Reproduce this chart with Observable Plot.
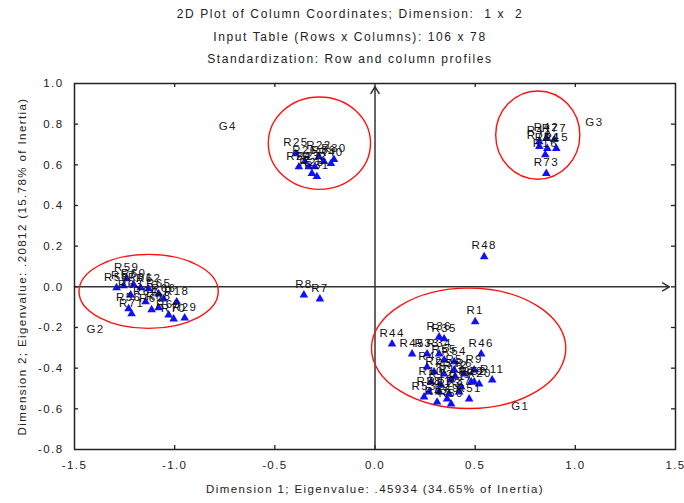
<!DOCTYPE html>
<html>
<head>
<meta charset="utf-8">
<script src="https://cdn.jsdelivr.net/npm/d3@7"></script>
<script src="https://cdn.jsdelivr.net/npm/@observablehq/plot@0.6"></script>
<style>
  body { margin: 0; background: #fff; }
  #wrap { width: 684px; height: 503px; position: relative; font-family: "Liberation Sans", Arial, sans-serif; }
  #title { height: 70px; box-sizing: border-box; padding-top: 3px; padding-left: 16px; text-align: center; font-size: 12px; line-height: 22.5px; letter-spacing: 1.6px; color: #222; }
  #title div { white-space: pre; }
  #chart svg text { letter-spacing: 1.4px; }
</style>
</head>
<body>
<div id="wrap">
  <div id="title">
    <div>2D Plot of Column Coordinates; Dimension:  1 x  2</div>
    <div>Input Table (Rows x Columns): 106 x 78</div>
    <div>Standardization: Row and column profiles</div>
  </div>
  <div id="chart"></div>
</div>
<script>
// Column coordinates (Dimension 1, Dimension 2)
const names = [
  // G4
  "R25","R24","R26","R27","R28","R31","R32","R39","R40","R30","R22",
  // G3
  "R41","R42","R77","R76","R14","R15","R16","R73",
  // G2
  "R59","R58","R57","R60","R61","R62","R63","R64","R65","R66","R56","R67","R68","R69","R70","R18","R29","R71",
  // outliers
  "R48","R8","R7",
  // G1
  "R1","R44","R45","R36","R35","R33","R34","R46","R4","R11",
  "R2","R3","R5","R6","R9","R10","R12","R13","R17","R19","R20","R21",
  "R23","R37","R38","R43","R49","R50","R51","R52","R53","R54","R55","R72"
];
const dim1 = [
  -0.395,-0.38,-0.35,-0.33,-0.315,-0.29,-0.30,-0.255,-0.22,-0.205,-0.28,
  0.82,0.855,0.895,0.82,0.86,0.905,0.85,0.855,
  -1.24,-1.29,-1.255,-1.205,-1.17,-1.13,-1.22,-1.145,-1.08,-1.055,-1.23,-1.115,-1.08,-1.03,-1.005,-0.99,-0.95,-1.215,
  0.545,-0.355,-0.275,
  0.50,0.085,0.185,0.32,0.345,0.26,0.32,0.53,0.26,0.585,
  0.295,0.345,0.395,0.445,0.495,0.28,0.33,0.38,0.43,0.48,0.52,0.32,
  0.37,0.42,0.27,0.31,0.36,0.38,0.47,0.495,0.245,0.395,0.345,0.40
];
const dim2 = [
  0.655,0.59,0.616,0.59,0.557,0.542,0.59,0.616,0.606,0.626,0.64,
  0.714,0.73,0.724,0.69,0.68,0.68,0.65,0.557,
  0.04,-0.005,0.005,0.01,-0.005,-0.01,-0.04,-0.074,-0.035,-0.06,-0.108,-0.113,-0.103,-0.138,-0.158,-0.074,-0.153,-0.133,
  0.148,-0.04,-0.06,
  -0.172,-0.281,-0.33,-0.246,-0.256,-0.33,-0.33,-0.33,-0.394,-0.458,
  -0.419,-0.429,-0.409,-0.429,-0.409,-0.468,-0.483,-0.458,-0.493,-0.468,-0.478,-0.517,
  -0.527,-0.517,-0.517,-0.567,-0.552,-0.576,-0.552,-0.468,-0.542,-0.369,-0.36,-0.44
];
const points = names.map((n, i) => ({name: n, x: dim1[i], y: dim2[i]}));

// Group ellipses (centre and radii in data units) and their labels
const groupNames = ["G1","G2","G3","G4"];
const groupCx = [0.47, -1.1275, 0.815, -0.275];
const groupCy = [-0.305, -0.025, 0.744, 0.704];
const groupRx = [0.485, 0.3475, 0.21, 0.255];
const groupRy = [0.296, 0.182, 0.217, 0.227];
const groupLabelX = [0.725, -1.395, 1.095, -0.735];
const groupLabelY = [-0.59, -0.21, 0.81, 0.79];
const groups = groupNames.map((g, i) => ({name: g, cx: groupCx[i], cy: groupCy[i], rx: groupRx[i], ry: groupRy[i], lx: groupLabelX[i], ly: groupLabelY[i]}));

const xTicks = [-1.5, -1.0, -0.5, 0.0, 0.5, 1.0, 1.5];
const yTicks = [-0.8, -0.6, -0.4, -0.2, 0.0, 0.2, 0.4, 0.6, 0.8, 1.0];
const xLabel = "Dimension 1; Eigenvalue: .45934 (34.65% of Inertia)";
const yLabel = "Dimension 2; Eigenvalue: .20812 (15.78% of Inertia)";

const fmt = d => d.toFixed(1);
const innerX = xTicks.slice(1, -1);
const innerY = yTicks.slice(1, -1);

function ellipseMark(index, scales) {
  const g = d3.create("svg:g");
  for (const e of groups) {
    const cx = scales.x(e.cx), cy = scales.y(e.cy);
    g.append("ellipse")
      .attr("cx", cx).attr("cy", cy)
      .attr("rx", Math.abs(scales.x(e.cx + e.rx) - cx))
      .attr("ry", Math.abs(scales.y(e.cy + e.ry) - cy))
      .attr("fill", "none").attr("stroke", "#ff1010").attr("stroke-width", 1.4);
  }
  return g.node();
}

const chart = Plot.plot({
  width: 684,
  height: 433,
  marginTop: 13,
  marginBottom: 54,
  marginLeft: 74,
  marginRight: 9,
  style: {fontFamily: "'Liberation Sans', Arial, sans-serif", fontSize: "11px", color: "#222", background: "#fff"},
  x: {domain: [-1.5, 1.5], ticks: xTicks},
  y: {domain: [-0.8, 1.0], ticks: yTicks},
  marks: [
    Plot.axisX(xTicks, {tickSize: 0, tickPadding: 11, tickFormat: fmt, label: null, fontSize: 11.5}),
    Plot.axisY(yTicks, {tickSize: 0, tickPadding: 11, tickFormat: fmt, label: null, fontSize: 11.5}),
    // inward tick marks on all four sides
    Plot.ruleX(innerX, {y1: -0.8, y2: -0.78, stroke: "#222", strokeWidth: 1.3}),
    Plot.ruleX(innerX, {y1: 1.0, y2: 0.98, stroke: "#222", strokeWidth: 1.3}),
    Plot.ruleY(innerY, {x1: -1.5, x2: -1.48, stroke: "#222", strokeWidth: 1.3}),
    Plot.ruleY(innerY, {x1: 1.5, x2: 1.48, stroke: "#222", strokeWidth: 1.3}),
    // zero axes with arrows
    Plot.arrow([0], {x1: -1.5, y1: 0, x2: 1.47, y2: 0, stroke: "#333", strokeWidth: 1.5, headLength: 8, bend: 0}),
    Plot.arrow([0], {x1: 0, y1: -0.8, x2: 0, y2: 0.985, stroke: "#333", strokeWidth: 1.5, headLength: 8, bend: 0}),
    Plot.frame({stroke: "#222", strokeWidth: 1.5}),
    ellipseMark,
    Plot.dot(points, {x: "x", y: "y", symbol: "triangle", fill: "#1010ff", stroke: "none", r: 3.2}),
    Plot.text(points, {x: "x", y: "y", text: "name", dy: -11, fill: "#111", fontSize: 11.5, stroke: "none"}),
    Plot.text(groups, {x: "lx", y: "ly", text: "name", fill: "#222", fontSize: 11.5, textAnchor: "middle"}),
    Plot.text([xLabel], {frameAnchor: "bottom", textAnchor: "middle", dy: 43, fontSize: 11.5, fill: "#222"}),
    Plot.text([yLabel], {frameAnchor: "left", textAnchor: "middle", dx: -52, rotate: -90, fontSize: 11.5, fill: "#222"})
  ]
});
document.getElementById("chart").appendChild(chart);
</script>
</body>
</html>
